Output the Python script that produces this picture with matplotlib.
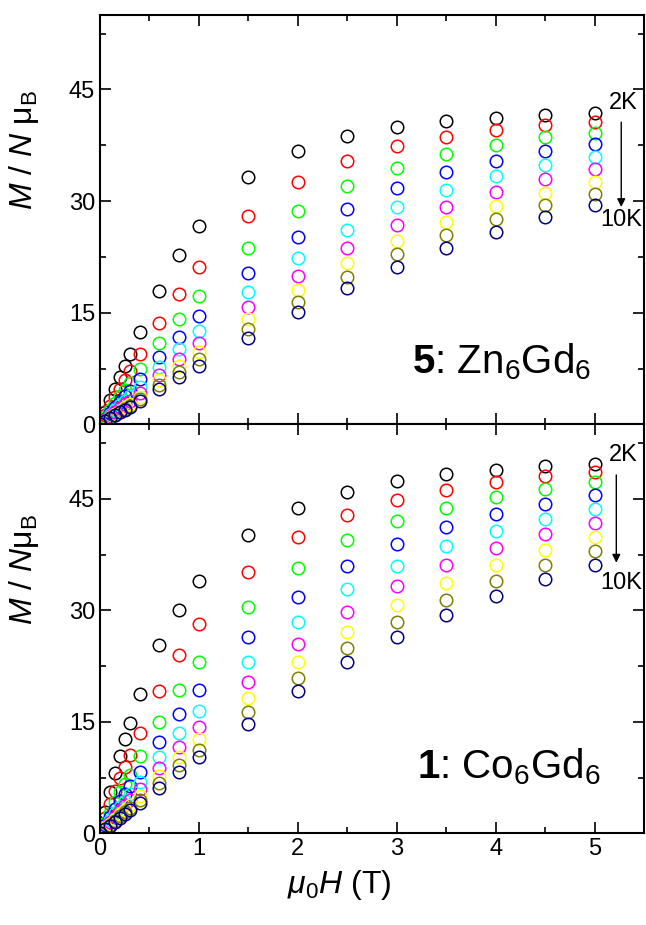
'''
M vs mu0H isotherms (2-10 K) for Zn6Gd6 (5) and Co6Gd6 (1)
'''
import numpy as np
import matplotlib as mpl
import matplotlib.pyplot as plt
from matplotlib.ticker import MultipleLocator

mpl.rcParams['font.family'] = 'Liberation Sans'
mpl.rcParams['mathtext.fontset'] = 'custom'
mpl.rcParams['mathtext.rm'] = 'Liberation Sans'
mpl.rcParams['mathtext.it'] = 'Liberation Sans:italic'
mpl.rcParams['mathtext.bf'] = 'Liberation Sans:bold'
mpl.rcParams['axes.linewidth'] = 1.5

# -- data --
field = [0.0, 0.05, 0.1, 0.15, 0.2, 0.25, 0.3, 0.4, 0.6, 0.8, 1.0,
         1.5, 2.0, 2.5, 3.0, 3.5, 4.0, 4.5, 5.0]  # [T]
temps = ['2K', '3K', '4K', '5K', '6K', '7K', '8K', '9K', '10K']
colors = ['#000000', '#ff0000', '#00ff00', '#0000ff', '#00ffff',
          '#ff00ff', '#ffff00', '#808000', '#000080']

# 5: Zn6Gd6
M_zn = [
    [0, 1.65, 3.3, 4.8, 6.3, 7.9, 9.45, 12.4, 17.95, 22.7, 26.6, 33.2, 36.7, 38.8, 40.0, 40.7, 41.2, 41.5, 41.8],
    [0, 1.2, 2.5, 3.7, 4.8, 6.0, 7.2, 9.4, 13.65, 17.5, 21.1, 28.0, 32.55, 35.4, 37.4, 38.6, 39.5, 40.2, 40.65],
    [0, 0.95, 1.9, 2.85, 3.75, 4.65, 5.6, 7.4, 10.9, 14.15, 17.2, 23.7, 28.6, 32.05, 34.5, 36.3, 37.5, 38.55, 39.2],
    [0, 0.75, 1.55, 2.3, 3.05, 3.8, 4.55, 6.05, 9.0, 11.8, 14.55, 20.4, 25.2, 28.9, 31.7, 33.85, 35.4, 36.7, 37.65],
    [0, 0.65, 1.3, 1.9, 2.55, 3.2, 3.8, 5.07, 7.75, 10.1, 12.5, 17.8, 22.4, 26.15, 29.15, 31.5, 33.35, 34.9, 35.95],
    [0, 0.55, 1.1, 1.6, 2.15, 2.7, 3.2, 4.26, 6.7, 8.8, 10.9, 15.8, 20.0, 23.7, 26.8, 29.2, 31.25, 32.9, 34.25],
    [0, 0.45, 0.95, 1.4, 1.85, 2.3, 2.8, 3.7, 5.9, 7.9, 9.75, 14.15, 18.1, 21.7, 24.7, 27.2, 29.3, 31.1, 32.6],
    [0, 0.4, 0.85, 1.25, 1.7, 2.1, 2.5, 3.35, 5.3, 7.1, 8.75, 12.8, 16.5, 19.85, 22.85, 25.4, 27.6, 29.5, 31.0],
    [0, 0.4, 0.8, 1.2, 1.6, 1.95, 2.35, 3.15, 4.7, 6.3, 7.85, 11.65, 15.15, 18.35, 21.2, 23.7, 25.9, 27.85, 29.5],
]

# 1: Co6Gd6
M_co = [
    [0, 2.9, 5.6, 8.07, 10.4, 12.7, 14.9, 18.75, 25.3, 30.05, 33.9, 40.1, 43.75, 45.95, 47.35, 48.3, 48.9, 49.4, 49.7],
    [0, 2.0, 3.9, 5.7, 7.4, 8.9, 10.5, 13.55, 19.2, 24.0, 28.1, 35.2, 39.8, 42.8, 44.85, 46.2, 47.3, 48.05, 48.55],
    [0, 1.4, 2.8, 4.2, 5.5, 6.7, 7.9, 10.4, 15.0, 19.3, 23.1, 30.5, 35.7, 39.4, 42.0, 43.8, 45.25, 46.35, 47.2],
    [0, 1.1, 2.2, 3.3, 4.3, 5.3, 6.3, 8.3, 12.25, 16.0, 19.3, 26.4, 31.8, 35.9, 38.9, 41.15, 43.0, 44.35, 45.45],
    [0, 0.9, 1.8, 2.7, 3.6, 4.4, 5.25, 6.95, 10.3, 13.45, 16.5, 23.1, 28.4, 32.8, 36.0, 38.65, 40.65, 42.3, 43.6],
    [0, 0.75, 1.5, 2.25, 3.0, 3.75, 4.45, 5.9, 8.8, 11.65, 14.35, 20.35, 25.4, 29.8, 33.2, 36.05, 38.4, 40.25, 41.7],
    [0, 0.65, 1.3, 1.9, 2.55, 3.2, 3.8, 5.0, 7.7, 10.3, 12.65, 18.25, 23.05, 27.1, 30.75, 33.7, 36.1, 38.15, 39.8],
    [0, 0.6, 1.15, 1.7, 2.3, 2.85, 3.4, 4.5, 6.8, 9.15, 11.2, 16.3, 20.95, 24.9, 28.45, 31.4, 33.95, 36.1, 38.0],
    [0, 0.55, 1.05, 1.55, 2.1, 2.6, 3.1, 4.1, 6.05, 8.2, 10.2, 14.75, 19.15, 23.0, 26.35, 29.35, 31.95, 34.25, 36.15],
]


def panel(sub, M, ylabel, label_y):
    for ii in range(len(temps)):
        sub.plot(field, M[ii], ls='none', marker='o', ms=9, mfc='none',
                 mec=colors[ii], mew=1.1)
    sub.set_xlim([0., 5.5])
    sub.set_ylim([0., 55.])
    sub.xaxis.set_major_locator(MultipleLocator(1))
    sub.xaxis.set_minor_locator(MultipleLocator(0.5))
    sub.yaxis.set_major_locator(MultipleLocator(15))
    sub.yaxis.set_minor_locator(MultipleLocator(7.5))
    sub.tick_params(which='both', direction='in', top=True, right=True,
                    width=1.2, labelsize=17)
    sub.tick_params(which='major', length=8)
    sub.tick_params(which='minor', length=4.5)
    sub.set_ylabel(ylabel, fontsize=23)
    sub.yaxis.set_label_coords(-0.108, label_y)


fig = plt.figure(figsize=(6.46, 9.25), dpi=100)
sub1 = fig.add_axes([0.1548, 0.5412, 0.8421, 0.4426])
sub2 = fig.add_axes([0.1548, 0.0991, 0.8421, 0.4421])

panel(sub1, M_zn, r'$M$ / $N$ $\mathrm{\mu}_\mathrm{B}$', 0.67)
panel(sub2, M_co, r'$M$ / $N\mathrm{\mu}_\mathrm{B}$', 0.645)
sub1.tick_params(labelbottom=False)

sub2.set_xlabel(r'$\mu_{\mathit{0}}H$ (T)', fontsize=23)
sub2.xaxis.set_label_coords(0.44, -0.085)

# compound labels
sub1.text(3.15, 6.9, r'$\mathbf{5}$: Zn$_6$Gd$_6$', fontsize=29,
          ha='left', va='baseline')
sub2.text(3.2, 7.4, r'$\mathbf{1}$: Co$_6$Gd$_6$', fontsize=29,
          ha='left', va='baseline')

# temperature arrows
for sub, xa, y2k, y10k, ya0, ya1 in [(sub1, 5.27, 43.2, 27.4, 40.6, 29.2),
                                      (sub2, 5.22, 50.9, 33.7, 48.2, 36.4)]:
    sub.text(5.29, y2k, '2K', fontsize=17, ha='center', va='center')
    sub.text(5.27, y10k, '10K', fontsize=17, ha='center', va='center')
    sub.annotate('', xy=(xa, ya1), xytext=(xa, ya0),
                 arrowprops=dict(arrowstyle='-|>', color='k', lw=1.0,
                                 mutation_scale=12, shrinkA=0, shrinkB=0))

fig.savefig('out.png', dpi=100)
plt.close()
